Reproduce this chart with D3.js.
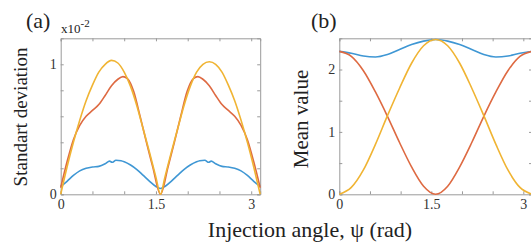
<!DOCTYPE html>
<html>
<head>
<meta charset="UTF-8">
<style>
  body { margin: 0; background: #fff; }
  text { font-family: "Liberation Serif", "DejaVu Serif", serif; fill: #222; }
  .axis path, .axis line { stroke: #9a9a9a; }
  .axis text { font-size: 14px; fill: #333; }
</style>
<script src="https://d3js.org/d3.v7.min.js"></script>
</head>
<body>
<div id="chart"></div>
<script>
// panel (a): standard deviation (x 1e-2)
const psiA = [0, 0.1, 0.2, 0.3, 0.4, 0.5, 0.6, 0.7, 0.8, 0.9, 0.98, 1.05, 1.15, 1.25, 1.35, 1.45, 1.571,
              1.69, 1.79, 1.89, 1.99, 2.09, 2.16, 2.24, 2.34, 2.44, 2.54, 2.64, 2.74, 2.84, 2.94, 3.04, 3.1416];
const stdOrange = [0.05, 0.25, 0.42, 0.53, 0.60, 0.645, 0.69, 0.76, 0.835, 0.885, 0.905, 0.89, 0.79, 0.60, 0.40, 0.21, 0.0,
                   0.21, 0.40, 0.60, 0.79, 0.89, 0.905, 0.885, 0.835, 0.76, 0.69, 0.645, 0.60, 0.53, 0.42, 0.25, 0.05];
const psiYellowA = [0, 0.1, 0.2, 0.3, 0.4, 0.5, 0.6, 0.7, 0.8, 0.9, 1.0, 1.1, 1.2, 1.3, 1.4, 1.5, 1.571,
                    1.64, 1.74, 1.84, 1.94, 2.04, 2.14, 2.24, 2.34, 2.44, 2.54, 2.64, 2.74, 2.84, 2.94, 3.04, 3.1416];
const stdYellow = [0.0, 0.21, 0.40, 0.57, 0.72, 0.84, 0.94, 1.00, 1.03, 1.01, 0.94, 0.83, 0.68, 0.50, 0.32, 0.13, 0.0,
                   0.13, 0.32, 0.50, 0.68, 0.83, 0.94, 1.00, 1.02, 1.00, 0.94, 0.84, 0.72, 0.57, 0.40, 0.21, 0.0];
const psiBlueA = [0, 0.1, 0.2, 0.3, 0.4, 0.5, 0.6, 0.7, 0.77, 0.81, 0.87, 0.95, 1.0, 1.1, 1.2, 1.3, 1.4, 1.5, 1.571,
                  1.64, 1.74, 1.84, 1.94, 2.04, 2.14, 2.19, 2.27, 2.33, 2.37, 2.44, 2.54, 2.64, 2.74, 2.84, 2.94, 3.04, 3.1416];
const stdBlue = [0.06, 0.10, 0.145, 0.18, 0.20, 0.21, 0.215, 0.235, 0.255, 0.246, 0.262, 0.258, 0.25, 0.225, 0.19, 0.145, 0.10, 0.06, 0.045,
                 0.06, 0.10, 0.145, 0.19, 0.225, 0.25, 0.258, 0.262, 0.246, 0.255, 0.235, 0.215, 0.21, 0.20, 0.18, 0.145, 0.10, 0.06];

// panel (b): mean value
const psiB = [0, 0.196, 0.393, 0.589, 0.785, 0.982, 1.178, 1.374, 1.571,
              1.767, 1.963, 2.160, 2.356, 2.553, 2.749, 2.945, 3.1416];
const meanBlue = [2.29, 2.26, 2.215, 2.20, 2.24, 2.32, 2.40, 2.455, 2.48,
                  2.455, 2.40, 2.32, 2.24, 2.20, 2.215, 2.26, 2.29];
const meanOrange = [2.29, 2.21, 1.98, 1.64, 1.25, 0.83, 0.44, 0.13, 0.0,
                    0.13, 0.44, 0.83, 1.25, 1.64, 1.98, 2.21, 2.29];
const meanYellow = [0.0, 0.11, 0.39, 0.80, 1.26, 1.70, 2.10, 2.38, 2.48,
                    2.38, 2.10, 1.70, 1.26, 0.80, 0.39, 0.11, 0.0];

const xTicks = [0, 0.5, 1, 1.5, 2, 2.5, 3];
const xLabels = [0, 1.5, 3];
const yTicksA = [0, 0.2, 0.4, 0.6, 0.8, 1.0];
const yLabelsA = [0, 1];
const yTicksB = [0, 0.5, 1, 1.5, 2];
const yLabelsB = [0, 1, 2];

const colors = { blue: "#3f97d4", orange: "#de6a42", yellow: "#f0b433" };

const svg = d3.select("#chart").append("svg")
  .attr("width", 531).attr("height", 244);

function panel(opts) {
  const x = d3.scaleLinear().domain([0, Math.PI]).range([opts.left, opts.right]);
  const y = d3.scaleLinear().domain([0, opts.ymax]).range([194.3, 38.3]);
  const g = svg.append("g");

  const fmt = labels => d => labels.includes(d) ? String(d) : "";

  g.append("g").attr("class", "axis")
    .attr("transform", "translate(0,194.3)")
    .call(d3.axisBottom(x).tickValues(xTicks).tickSize(-3).tickPadding(5).tickFormat(fmt(xLabels)));
  g.append("g").attr("class", "axis")
    .attr("transform", "translate(0,38.3)")
    .call(d3.axisTop(x).tickValues(xTicks).tickSize(-3).tickFormat(""));
  g.append("g").attr("class", "axis")
    .attr("transform", "translate(" + opts.left + ",0)")
    .call(d3.axisLeft(y).tickValues(opts.yTicks).tickSize(-3).tickPadding(4).tickFormat(fmt(opts.yLabels)));
  g.append("g").attr("class", "axis")
    .attr("transform", "translate(" + opts.right + ",0)")
    .call(d3.axisRight(y).tickValues(opts.yTicks).tickSize(-3).tickFormat(""));

  const line = d3.line().x(d => x(d[0])).y(d => y(d[1])).curve(d3.curveMonotoneX);
  opts.series.forEach(s => {
    g.append("path")
      .datum(s.xs.map((v, i) => [v, s.ys[i]]))
      .attr("fill", "none")
      .attr("stroke", s.color)
      .attr("stroke-width", 1.6)
      .attr("d", line);
  });
}

panel({
  left: 60.7, right: 260.2, ymax: 1.2, yTicks: yTicksA, yLabels: yLabelsA,
  series: [
    { xs: psiBlueA, ys: stdBlue, color: colors.blue },
    { xs: psiA, ys: stdOrange, color: colors.orange },
    { xs: psiYellowA, ys: stdYellow, color: colors.yellow }
  ]
});

panel({
  left: 339.3, right: 532, ymax: 2.5, yTicks: yTicksB, yLabels: yLabelsB,
  series: [
    { xs: psiB, ys: meanBlue, color: colors.blue },
    { xs: psiB, ys: meanOrange, color: colors.orange },
    { xs: psiB, ys: meanYellow, color: colors.yellow }
  ]
});

// titles and labels
svg.append("text").attr("x", 26).attr("y", 28).style("font-size", "22px").text("(a)");
svg.append("text").attr("x", 311).attr("y", 28).style("font-size", "22px").text("(b)");

const exp = svg.append("text").attr("x", 61).attr("y", 33).style("font-size", "13px").attr("fill", "#333");
exp.append("tspan").text("x10");
exp.append("tspan").attr("dy", -6).style("font-size", "11px").text("-2");

svg.append("text")
  .attr("transform", "translate(27,117) rotate(-90)")
  .attr("text-anchor", "middle")
  .style("font-size", "19px")
  .text("Standart deviation");

svg.append("text")
  .attr("transform", "translate(308,119) rotate(-90)")
  .attr("text-anchor", "middle")
  .style("font-size", "21px")
  .text("Mean value");

svg.append("text")
  .attr("x", 310).attr("y", 237)
  .attr("text-anchor", "middle")
  .style("font-size", "22px")
  .text("Injection angle, \u03C8 (rad)");
</script>
</body>
</html>
